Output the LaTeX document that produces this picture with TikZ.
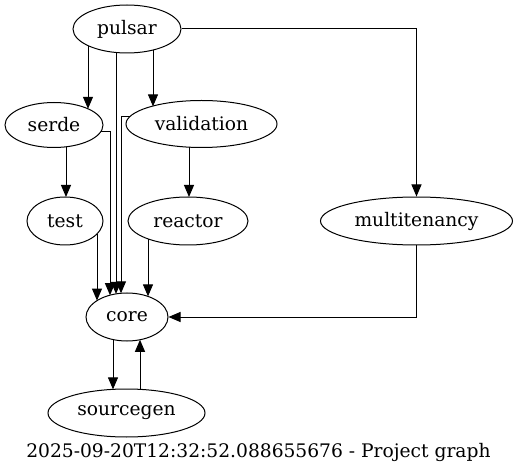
\documentclass[tikz,border=0pt]{standalone}
\usepackage{fontspec}
\setmainfont{DejaVu Serif}
\usetikzlibrary{shapes.geometric,arrows.meta,calc}
\begin{document}
\begin{tikzpicture}[x=1pt,y=-1pt,
  nd/.style={ellipse,draw,line width=1pt,inner sep=0pt,font=\fontsize{18.67}{22}\selectfont},
  arr/.style={line width=1pt,-{Triangle[length=12pt,width=10pt]}}]
\useasboundingbox (0,0) rectangle (517,473);
\node[nd,minimum width=108pt,minimum height=48pt] (pulsar) at (127,29) {pulsar};
\node[nd,minimum width=98pt,minimum height=45pt] (serde) at (54,125) {serde};
\node[nd,minimum width=151pt,minimum height=47pt] (validation) at (201.5,124) {validation};
\node[nd,minimum width=76pt,minimum height=48pt] (test) at (65,221) {test};
\node[nd,minimum width=120pt,minimum height=48pt] (reactor) at (188,221) {reactor};
\node[nd,minimum width=192pt,minimum height=48pt] (multitenancy) at (416.5,221) {multitenancy};
\node[nd,minimum width=82pt,minimum height=48pt] (core) at (127,317) {core};
\node[nd,minimum width=157pt,minimum height=48pt] (sourcegen) at (126.5,413) {sourcegen};
\node[font=\fontsize{18.67}{22}\selectfont] (caption) at (258.5,452) {2025-09-20T12:32:52.088655676 - Project graph};
% edges
\draw[arr] ($(pulsar)+(-39,16.6)$) -- ($(serde)+(34,-16.2)$);
\draw[arr] ($(pulsar)+(26,21)$) -- ($(validation)+(-48.5,-17.6)$);
\draw[arr] ($(pulsar)+(-11,23.5)$) -- ($(core)+(-11,-23.1)$);
\draw[arr] ($(serde)+(46.6,7)$) -| ($(core)+(-17,-21.8)$);
\draw[arr] ($(validation)+(-71.8,-7)$) -| ($(core)+(-6,-23.7)$);
\draw[arr] (pulsar.east) -| (multitenancy.north);
\draw[arr] (multitenancy.south) |- (core.east);
\draw[arr] ($(serde)+(12,21.8)$) -- ($(test)+(1,-24)$);
\draw[arr] ($(validation)+(-12.5,23.2)$) -- ($(reactor)+(1,-24)$);
\draw[arr] ($(test)+(32,12.9)$) -- ($(core)+(-30,-16.4)$);
\draw[arr] ($(reactor)+(-40,17.9)$) -- ($(core)+(21,-20.6)$);
\draw[arr] ($(core)+(-14,22.6)$) -- ($(sourcegen)+(-13.5,-23.6)$);
\draw[arr] ($(sourcegen)+(13.5,-23.6)$) -- ($(core)+(13,22.8)$);
\end{tikzpicture}
\end{document}
